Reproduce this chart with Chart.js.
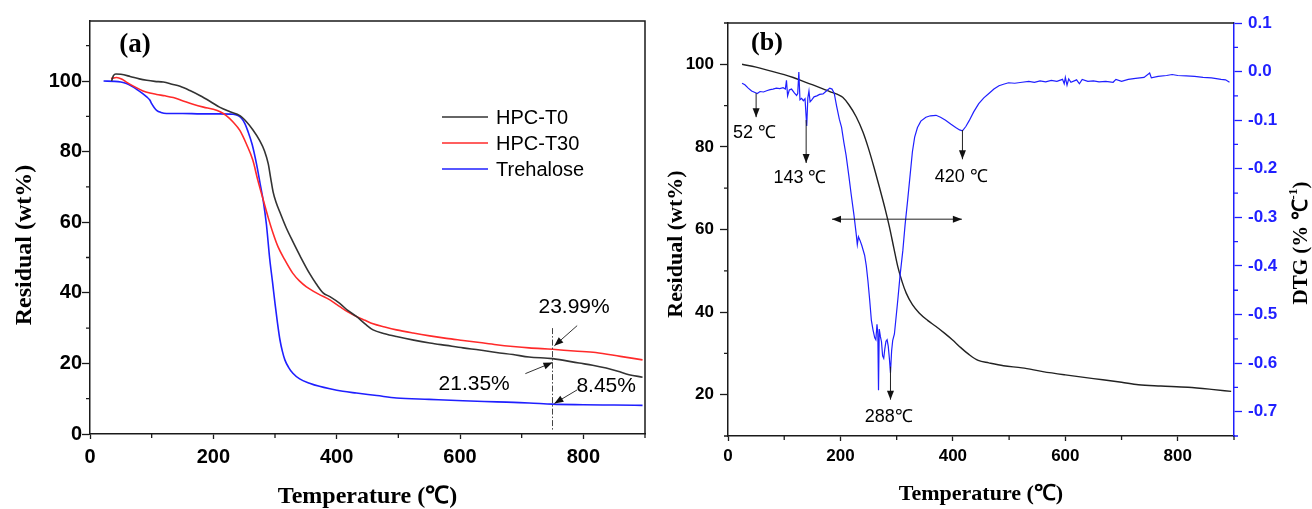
<!DOCTYPE html>
<html>
<head>
<meta charset="utf-8">
<script src="https://cdn.jsdelivr.net/npm/chart.js@4.4.0/dist/chart.umd.min.js"></script>
<style>
  html, body { margin: 0; padding: 0; background: #fff; }
  #wrap { position: relative; width: 1312px; height: 509px; overflow: hidden; }
  .panel { position: absolute; top: 0; width: 656px; height: 509px; }
</style>
</head>
<body>
<div id="wrap">
  <div class="panel" style="left:0"><canvas id="tga" width="656" height="509"></canvas></div>
  <div class="panel" style="left:656px"><canvas id="dtg" width="656" height="509"></canvas></div>
</div>
<script>
// ---- (a) TGA curves: temperature (℃) and residual mass (wt%) ----
const hpcT0Temp  = [35, 38, 42, 50, 65, 80, 92, 105, 119, 133, 146, 162, 178, 195, 210, 227, 243, 254, 264, 275, 283, 289, 293, 297, 302, 308, 318, 329, 342, 356, 367, 378, 389, 405, 418, 432, 446, 459, 478, 497, 525, 551, 578, 605, 632, 659, 686, 712, 750, 793, 815, 837, 856, 874, 896];
const hpcT0Resid = [100, 101.5, 102, 101.9, 101.3, 100.6, 100.2, 99.9, 99.7, 99.1, 98.5, 97.3, 95.9, 94.2, 92.6, 91.3, 90.2, 88.4, 86.2, 83.2, 80.2, 76.6, 72.5, 68.5, 65.5, 62.8, 58.5, 54.5, 50, 45.5, 42.5, 40, 38.9, 37, 35, 33.3, 31.2, 29.5, 28.4, 27.6, 26.6, 25.8, 25.1, 24.4, 23.8, 23.1, 22.5, 21.8, 21.35, 20.1, 19.5, 18.7, 17.8, 16.8, 16.1];

const hpcT30Temp  = [34, 43, 52, 59, 72, 86, 97, 108, 122, 135, 150, 167, 184, 200, 211, 221, 232, 243, 254, 264, 272, 281, 289, 297, 305, 316, 329, 340, 351, 370, 389, 405, 418, 432, 446, 459, 478, 497, 524, 551, 578, 605, 632, 659, 686, 712, 750, 785, 820, 860, 896];
const hpcT30Resid = [100.7, 101, 100.5, 99.7, 98.4, 97.2, 96.6, 96.2, 95.8, 95.3, 94.4, 93.4, 92.6, 92, 91.3, 90.2, 88.4, 86, 82, 77.6, 72, 66.3, 61.3, 56.8, 53, 49.3, 45.5, 43.3, 41.7, 39.7, 38, 36.1, 34.6, 33.3, 32.2, 31.2, 30.3, 29.5, 28.6, 27.8, 27.1, 26.5, 25.9, 25.3, 24.8, 24.4, 23.99, 23.5, 23.1, 22, 21];

const treTemp  = [22, 40, 50, 59, 68, 76, 85, 92, 97, 100, 104, 108, 115, 124, 150, 180, 210, 232, 240, 246, 251, 256, 263, 270, 276, 281, 286, 291.5, 296, 300, 304, 308, 312, 316, 322, 329, 340, 356, 372, 389, 410, 432, 465, 497, 550, 605, 660, 712, 750, 800, 850, 896];
const treResid = [100, 99.9, 99.7, 99.3, 98.5, 97.6, 96.5, 95.5, 94.6, 93.6, 92.5, 91.7, 91.1, 90.8, 90.8, 90.7, 90.7, 90.6, 90.2, 89.4, 88, 85.8, 82, 76.5, 70.8, 66, 59.5, 49.5, 43, 37, 31.5, 26.7, 23.4, 21, 18.9, 17.2, 15.6, 14.4, 13.5, 12.8, 12.1, 11.6, 10.9, 10.2, 9.8, 9.4, 9.1, 8.8, 8.45, 8.3, 8.2, 8.1];

// residues read at 750 ℃
const residueTemp = 750;
const residueT0 = 21.35, residueT30 = 23.99, residueTre = 8.45;

// ---- (b) TGA / DTG of one sample ----
const tgaTemp  = [25, 50, 75, 100, 116, 135, 151, 170, 181, 195, 204, 215, 228, 240, 249, 260, 269, 280, 287, 295, 302, 310, 317, 328, 340, 355, 370, 385, 399, 414, 429, 445, 464, 490, 523, 560, 600, 650, 700, 730, 770, 818, 860, 895];
const tgaResid = [100, 99.3, 98.4, 97.5, 96.8, 95.8, 95, 94, 93.4, 92.7, 92, 90.2, 87.3, 83.6, 80, 74.9, 70.4, 64.7, 60.7, 55.5, 51, 47.2, 44.6, 41.8, 39.8, 38, 36.5, 34.9, 33.3, 31.4, 29.7, 28.3, 27.7, 27, 26.5, 25.6, 24.8, 23.9, 23, 22.4, 22.1, 21.8, 21.3, 20.8];
const tgaResidTicks = [20, 40, 60, 80, 100];

const dtgTemp = [25, 30, 36, 42, 48, 52, 57, 63, 70, 75, 80, 86, 92, 98, 102, 104, 106, 109, 113, 118, 122, 124, 126, 128, 131, 134, 137, 140, 142, 144, 146, 149, 153, 158, 163, 169, 175, 181, 185, 189, 193, 198, 202, 206, 210, 215, 219, 224, 228, 230, 232, 235, 238, 243, 246, 249, 252, 255, 258, 261, 263, 265, 266.5, 267.7, 269, 271, 273, 275, 277, 279, 281, 283, 285, 287, 289, 291, 293, 296, 299, 302, 306, 311, 315, 319.5, 324, 328, 332, 337, 343, 352, 360, 370, 378, 387, 396, 405, 412, 417, 423, 429, 437, 446, 455, 464, 473, 482, 490, 499, 510, 523, 535, 545, 555, 565, 575, 585, 595, 598, 600, 603, 606, 610, 620, 625, 630, 640, 650, 660, 672, 685, 690, 700, 712, 725, 740, 750, 753, 765, 780, 790, 800, 815, 830, 845, 860, 877, 885, 892];
const dtgRate = [-0.024, -0.027, -0.034, -0.040, -0.043, -0.045, -0.041, -0.042, -0.039, -0.037, -0.036, -0.034, -0.035, -0.033, -0.036, -0.018, -0.050, -0.038, -0.036, -0.044, -0.049, -0.045, -0.001, -0.058, -0.055, -0.060, -0.056, -0.112, -0.054, -0.040, -0.062, -0.058, -0.052, -0.050, -0.047, -0.046, -0.040, -0.034, -0.036, -0.045, -0.070, -0.098, -0.115, -0.145, -0.172, -0.215, -0.252, -0.295, -0.334, -0.356, -0.340, -0.348, -0.358, -0.378, -0.400, -0.432, -0.470, -0.512, -0.532, -0.548, -0.552, -0.520, -0.540, -0.656, -0.530, -0.545, -0.556, -0.585, -0.590, -0.570, -0.555, -0.552, -0.565, -0.590, -0.620, -0.575, -0.553, -0.540, -0.505, -0.470, -0.420, -0.368, -0.315, -0.265, -0.212, -0.165, -0.135, -0.115, -0.102, -0.094, -0.091, -0.090, -0.094, -0.100, -0.108, -0.115, -0.120, -0.122, -0.113, -0.101, -0.083, -0.066, -0.054, -0.045, -0.036, -0.029, -0.026, -0.023, -0.024, -0.022, -0.020, -0.022, -0.019, -0.021, -0.018, -0.020, -0.016, -0.025, -0.012, -0.028, -0.015, -0.022, -0.017, -0.025, -0.016, -0.020, -0.019, -0.021, -0.020, -0.022, -0.016, -0.020, -0.016, -0.014, -0.012, -0.003, -0.013, -0.010, -0.008, -0.006, -0.008, -0.009, -0.010, -0.012, -0.013, -0.016, -0.017, -0.022];

// DTG peak temperatures that get labelled
const peakTemps = [52, 143, 288, 420];

// ---- shared helpers ----
const SANS = "'Liberation Sans', Arial, sans-serif";
const SERIF = "'Liberation Serif', 'Times New Roman', serif";
const AXIS = '#1a1a1a';
const BLUE = '#1f1fff';
const zip = (xs, ys) => xs.map((x, i) => ({ x, y: ys[i] }));

function arrow(ctx, x1, y1, x2, y2, both) {
  const head = 9, half = 3.5;
  ctx.beginPath(); ctx.moveTo(x1, y1); ctx.lineTo(x2, y2); ctx.stroke();
  const tip = (ax, ay, bx, by) => {
    const a = Math.atan2(by - ay, bx - ax), c = Math.cos(a), s = Math.sin(a);
    ctx.beginPath();
    ctx.moveTo(bx, by);
    ctx.lineTo(bx - head * c + half * s, by - head * s - half * c);
    ctx.lineTo(bx - head * c - half * s, by - head * s + half * c);
    ctx.closePath(); ctx.fill();
  };
  tip(x1, y1, x2, y2);
  if (both) tip(x2, y2, x1, y1);
}

// rotated axis title, read bottom to top
function verticalTitle(ctx, text, font, cx, cy) {
  ctx.save();
  ctx.translate(cx, cy);
  ctx.rotate(-Math.PI / 2);
  ctx.font = font;
  ctx.fillStyle = '#000';
  ctx.textAlign = 'center';
  ctx.textBaseline = 'middle';
  ctx.fillText(text, 0, 0);
  ctx.restore();
}

// short ticks halfway between the labelled ones
const minorTicks = {
  id: 'minorTicks',
  afterDraw(chart) {
    const ctx = chart.ctx;
    ctx.save();
    Object.values(chart.scales).forEach(s => {
      const vals = s.ticks.map(t => t.value);
      if (vals.length < 2) return;
      const step = vals[1] - vals[0];
      ctx.strokeStyle = s.options.border.color;
      ctx.lineWidth = 1.3;
      ctx.beginPath();
      for (let v = vals[0] - step / 2; v <= s.max + 1e-9; v += step) {
        if (v < s.min - 1e-9) continue;
        const p = s.getPixelForValue(v);
        if (s.axis === 'x') { ctx.moveTo(p, s.top); ctx.lineTo(p, s.top + 4); }
        else if (s.position === 'left') { ctx.moveTo(s.right, p); ctx.lineTo(s.right - 4, p); }
        else { ctx.moveTo(s.left, p); ctx.lineTo(s.left + 4, p); }
      }
      ctx.stroke();
    });
    ctx.restore();
  }
};

// top (and optionally right) edge of the plot frame
const frame = {
  id: 'frame',
  afterDraw(chart, args, opts) {
    const { ctx, chartArea: a } = chart;
    ctx.save();
    ctx.strokeStyle = AXIS; ctx.lineWidth = 1.5;
    ctx.beginPath();
    ctx.moveTo(a.left, a.top); ctx.lineTo(a.right, a.top);
    if (opts.right) ctx.lineTo(a.right, a.bottom);
    ctx.stroke();
    ctx.restore();
  }
};

const tickFont = size => ({ family: SANS, weight: 'bold', size });
const titleFont = size => ({ family: SERIF, weight: 'bold', size, lineHeight: 1 });

// ---- panel (a) overlay: tag, y title, legend, residue markers ----
const overlayA = {
  id: 'overlayA',
  afterDraw(chart) {
    const { ctx, scales: { x, y } } = chart;
    const X = v => x.getPixelForValue(v), Y = v => y.getPixelForValue(v);
    verticalTitle(ctx, 'Residual (wt%)', `bold 24px ${SERIF}`, 25, 245);
    ctx.save();
    ctx.fillStyle = '#000';
    ctx.textBaseline = 'middle';

    ctx.font = `bold 27px ${SERIF}`;
    ctx.textAlign = 'center';
    ctx.fillText('(a)', 135, 45);

    // legend
    ctx.font = `20px ${SANS}`;
    ctx.textAlign = 'left';
    chart.data.datasets.forEach((ds, i) => {
      const ly = 117 + i * 26;
      ctx.strokeStyle = ds.borderColor; ctx.lineWidth = 1.6;
      ctx.beginPath(); ctx.moveTo(442, ly); ctx.lineTo(488, ly); ctx.stroke();
      ctx.fillText(ds.label, 496, ly + 1);
    });

    // dash-dot guide at the reading temperature
    ctx.strokeStyle = '#444'; ctx.lineWidth = 1;
    ctx.setLineDash([6, 2, 1.5, 2]);
    ctx.beginPath(); ctx.moveTo(X(residueTemp), Y(30)); ctx.lineTo(X(residueTemp), Y(1)); ctx.stroke();
    ctx.setLineDash([]);

    ctx.strokeStyle = '#333'; ctx.fillStyle = '#111'; ctx.lineWidth = 1;
    arrow(ctx, X(790), Y(30.7), X(753), Y(residueT30 + 1.0));
    arrow(ctx, X(706), Y(17.1), X(750), Y(residueT0 - 1.1));
    arrow(ctx, X(790), Y(12.5), X(753), Y(residueTre + 0.2));

    ctx.fillStyle = '#000';
    ctx.font = `21px ${SANS}`;
    ctx.textAlign = 'center';
    ctx.fillText(residueT30.toFixed(2) + '%', X(785), Y(36));
    ctx.fillText(residueT0.toFixed(2) + '%', X(623), Y(14));
    ctx.fillText(residueTre.toFixed(2) + '%', X(837), Y(13.4));
    ctx.restore();
  }
};

new Chart(document.getElementById('tga'), {
  type: 'line',
  data: {
    datasets: [
      { label: 'HPC-T0', data: zip(hpcT0Temp, hpcT0Resid), borderColor: '#333333' },
      { label: 'HPC-T30', data: zip(hpcT30Temp, hpcT30Resid), borderColor: '#ff2a2a' },
      { label: 'Trehalose', data: zip(treTemp, treResid), borderColor: BLUE }
    ].map(d => Object.assign(d, { borderWidth: 1.6, pointRadius: 0, cubicInterpolationMode: 'monotone', fill: false }))
  },
  options: {
    responsive: false, animation: false, events: [],
    layout: { padding: { top: 21, right: 11, left: 0, bottom: 0 } },
    plugins: { legend: { display: false }, tooltip: { enabled: false }, frame: { right: true } },
    scales: {
      x: {
        type: 'linear', min: 0, max: 900,
        ticks: { stepSize: 200, includeBounds: false, font: tickFont(20), color: '#000', padding: 6, maxRotation: 0 },
        grid: { drawOnChartArea: false, tickLength: 5, tickColor: AXIS, tickWidth: 1.3 },
        border: { color: AXIS, width: 1.5 },
        title: { display: true, text: 'Temperature (℃)', font: titleFont(24), color: '#000', padding: { top: 0, bottom: 0 } },
        afterFit(s) { s.height = 75; }
      },
      y: {
        type: 'linear', min: 0, max: 117,
        ticks: { stepSize: 20, includeBounds: false, font: tickFont(20), color: '#000', padding: 0 },
        grid: { drawOnChartArea: false, tickLength: 8, tickColor: AXIS, tickWidth: 1.3 },
        border: { color: AXIS, width: 1.5 },
        afterFit(s) { s.width = 90; }
      }
    }
  },
  plugins: [frame, minorTicks, overlayA]
});

// ---- panel (b) overlay: tag, y titles, peak markers, axis hint arrows ----
const overlayB = {
  id: 'overlayB',
  afterDraw(chart) {
    const { ctx, scales: { x, y } } = chart;
    const X = v => x.getPixelForValue(v), Y = v => y.getPixelForValue(v);
    verticalTitle(ctx, 'Residual (wt%)', `bold 22px ${SERIF}`, 20, 244);
    ctx.save();
    ctx.fillStyle = '#000';
    ctx.textBaseline = 'middle';
    ctx.textAlign = 'center';
    ctx.font = `bold 26px ${SERIF}`;
    ctx.fillText('(b)', 767 - 656, 43);

    ctx.strokeStyle = '#222'; ctx.fillStyle = '#111'; ctx.lineWidth = 1;
    const [p52, p143, p288, p420] = peakTemps;
    arrow(ctx, X(p52 - 2), Y(93), X(p52 - 2), Y(87.2));
    arrow(ctx, X(p143 - 4), Y(86.5), X(p143 - 4), Y(76.1));
    arrow(ctx, X(p288 + 1), Y(26.8), X(p288 + 1), Y(18.8));
    arrow(ctx, X(p420 - 3), Y(84.1), X(p420 - 3), Y(77));
    arrow(ctx, X(185), Y(62.5), X(416), Y(62.5), true);

    ctx.fillStyle = '#000';
    ctx.font = `18px ${SANS}`;
    ctx.fillText(`${p52} ℃`, X(47), Y(83.4));
    ctx.fillText(`${p143} ℃`, X(128), Y(72.4));
    ctx.fillText(`${p420} ℃`, X(415), Y(72.7));
    ctx.fillText(`${p288}℃`, X(286), Y(14.7));

    // right-hand axis title, read bottom to top, with a superscript
    const big = `bold 21px ${SERIF}`, small = `bold 13px ${SERIF}`;
    const parts = [['DTG (% ℃', big, 0], ['-1', small, -8], [')', big, 0]];
    const widths = parts.map(p => { ctx.font = p[1]; return ctx.measureText(p[0]).width; });
    const total = widths.reduce((a, b) => a + b, 0);
    ctx.translate(chart.width - 10, 243);
    ctx.rotate(-Math.PI / 2);
    ctx.textAlign = 'left';
    let cx = -total / 2;
    parts.forEach((p, i) => { ctx.font = p[1]; ctx.fillText(p[0], cx, p[2]); cx += widths[i]; });
    ctx.restore();
  }
};

new Chart(document.getElementById('dtg'), {
  type: 'line',
  data: {
    datasets: [
      { label: 'DTG', data: zip(dtgTemp, dtgRate), yAxisID: 'y2', borderColor: BLUE, borderWidth: 1.2, pointRadius: 0, tension: 0 },
      { label: 'TGA', data: zip(tgaTemp, tgaResid), yAxisID: 'y', borderColor: '#222222', borderWidth: 1.4, pointRadius: 0, cubicInterpolationMode: 'monotone' }
    ]
  },
  options: {
    responsive: false, animation: false, events: [],
    layout: { padding: { top: 23, right: 0, left: 0, bottom: 0 } },
    plugins: { legend: { display: false }, tooltip: { enabled: false }, frame: { right: false } },
    scales: {
      x: {
        type: 'linear', min: 0, max: 900,
        ticks: { stepSize: 200, includeBounds: false, font: tickFont(17), color: '#000', padding: 5, maxRotation: 0 },
        grid: { drawOnChartArea: false, tickLength: 5, tickColor: AXIS, tickWidth: 1.3 },
        border: { color: AXIS, width: 1.5 },
        title: { display: true, text: 'Temperature (℃)', font: titleFont(22), color: '#000', padding: { top: 0, bottom: 4 } },
        afterFit(s) { s.height = 73; }
      },
      y: {
        type: 'linear', position: 'left', min: 10, max: 110,
        ticks: { font: tickFont(17), color: '#000', padding: 6 },
        afterBuildTicks(s) { s.ticks = tgaResidTicks.map(v => ({ value: v })); },
        grid: { drawOnChartArea: false, tickLength: 8, tickColor: AXIS, tickWidth: 1.3 },
        border: { color: AXIS, width: 1.5 },
        afterFit(s) { s.width = 72; }
      },
      y2: {
        type: 'linear', position: 'right', min: -0.75, max: 0.1,
        ticks: { stepSize: 0.1, includeBounds: false, font: tickFont(17), color: BLUE, padding: 6, callback: v => v.toFixed(1) },
        grid: { drawOnChartArea: false, tickLength: 8, tickColor: BLUE, tickWidth: 1.3 },
        border: { color: BLUE, width: 1.5 },
        afterFit(s) { s.width = 78; }
      }
    }
  },
  plugins: [frame, minorTicks, overlayB]
});
</script>
</body>
</html>
